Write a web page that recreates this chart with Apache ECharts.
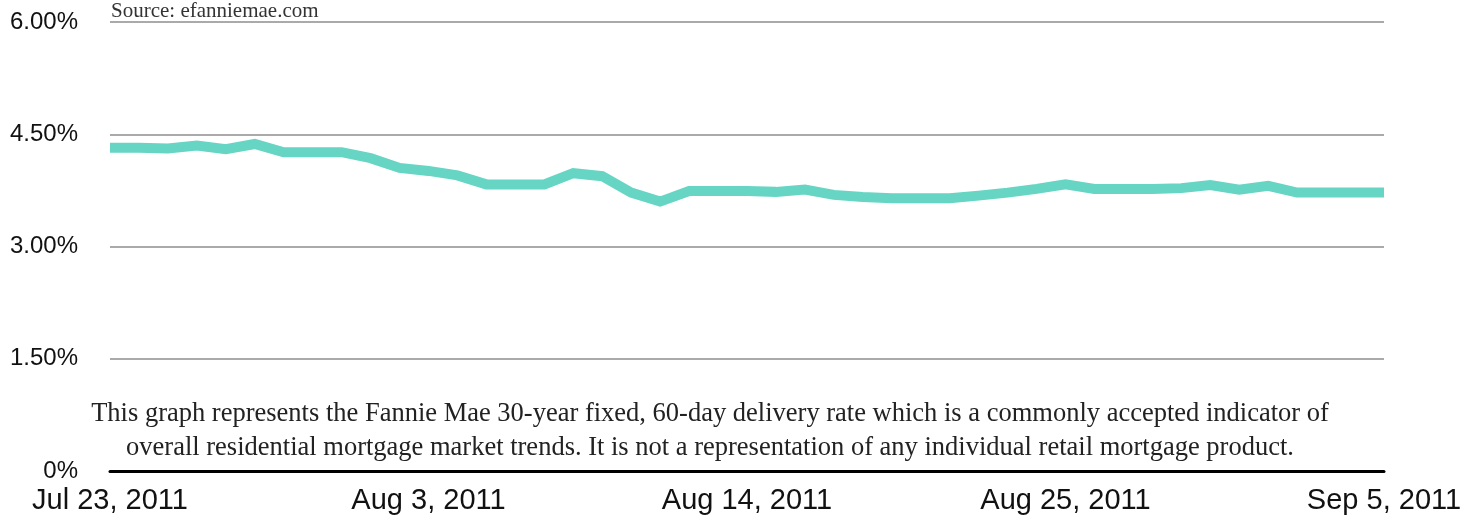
<!DOCTYPE html>
<html>
<head>
<meta charset="utf-8">
<script src="https://cdn.jsdelivr.net/npm/echarts@6/dist/echarts.min.js"></script>
<style>html,body{margin:0;padding:0;background:#fff;}#c{width:1474px;height:520px;}</style>
</head>
<body>
<div id="c"></div>
<script>
const dates = ['Jul 23, 2011','Jul 24, 2011','Jul 25, 2011','Jul 26, 2011','Jul 27, 2011','Jul 28, 2011','Jul 29, 2011','Jul 30, 2011','Jul 31, 2011',
  'Aug 1, 2011','Aug 2, 2011','Aug 3, 2011','Aug 4, 2011','Aug 5, 2011','Aug 6, 2011','Aug 7, 2011','Aug 8, 2011','Aug 9, 2011','Aug 10, 2011',
  'Aug 11, 2011','Aug 12, 2011','Aug 13, 2011','Aug 14, 2011','Aug 15, 2011','Aug 16, 2011','Aug 17, 2011','Aug 18, 2011','Aug 19, 2011','Aug 20, 2011',
  'Aug 21, 2011','Aug 22, 2011','Aug 23, 2011','Aug 24, 2011','Aug 25, 2011','Aug 26, 2011','Aug 27, 2011','Aug 28, 2011','Aug 29, 2011','Aug 30, 2011',
  'Aug 31, 2011','Sep 1, 2011','Sep 2, 2011','Sep 3, 2011','Sep 4, 2011','Sep 5, 2011'];
const rates = [4.32,4.32,4.31,4.35,4.30,4.37,4.26,4.26,4.26,4.18,4.05,4.01,3.95,3.83,3.83,3.83,3.98,3.94,3.72,3.60,
  3.74,3.74,3.74,3.73,3.76,3.69,3.66,3.645,3.645,3.645,3.68,3.72,3.77,3.83,3.77,3.77,3.77,3.78,3.82,3.76,
  3.81,3.72,3.72,3.72,3.72];
const yTicks = [0, 1.5, 3, 4.5, 6];
const sourceText = 'Source: efanniemae.com';
const noteLines = ['This graph represents the Fannie Mae 30-year fixed, 60-day delivery rate which is a commonly accepted indicator of',
  'overall residential mortgage market trends. It is not a representation of any individual retail mortgage product.'];

const chart = echarts.init(document.getElementById('c'), null, {renderer: 'canvas'});
chart.setOption({
  animation: false,
  backgroundColor: '#ffffff',
  grid: {left: 110, right: 90, top: 22, bottom: 49, containLabel: false},
  xAxis: {
    type: 'category',
    data: dates,
    boundaryGap: false,
    axisLine: {show: true, lineStyle: {color: '#000', width: 3}},
    axisTick: {show: false},
    axisLabel: {interval: 10, color: '#111', fontFamily: 'Liberation Sans, Arial, sans-serif', fontSize: 29, margin: 15}
  },
  yAxis: {
    type: 'value',
    min: yTicks[0], max: yTicks[yTicks.length - 1], interval: 1.5,
    axisLine: {show: false},
    axisTick: {show: false},
    splitLine: {show: true, lineStyle: {color: '#aaaaaa', width: 2}},
    axisLabel: {
      color: '#111', fontFamily: 'Liberation Sans, Arial, sans-serif', fontSize: 24, margin: 32,
      formatter: v => v === 0 ? '0%' : v.toFixed(2) + '%'
    }
  },
  series: [{
    type: 'line',
    data: rates,
    symbol: 'none',
    lineStyle: {color: '#66d5c4', width: 10, join: 'miter'},
    z: 3
  }],
  graphic: [
    {type: 'text', left: 111, top: 1, style: {text: sourceText, font: '21px "Liberation Serif", "Times New Roman", serif', fill: '#333'}},
    {type: 'text', x: 710, y: 397, style: {text: noteLines.join('\n'), font: '26.5px "Liberation Serif", "Times New Roman", serif', fill: '#222', textAlign: 'center', lineHeight: 34}}
  ]
});
</script>
</body>
</html>
